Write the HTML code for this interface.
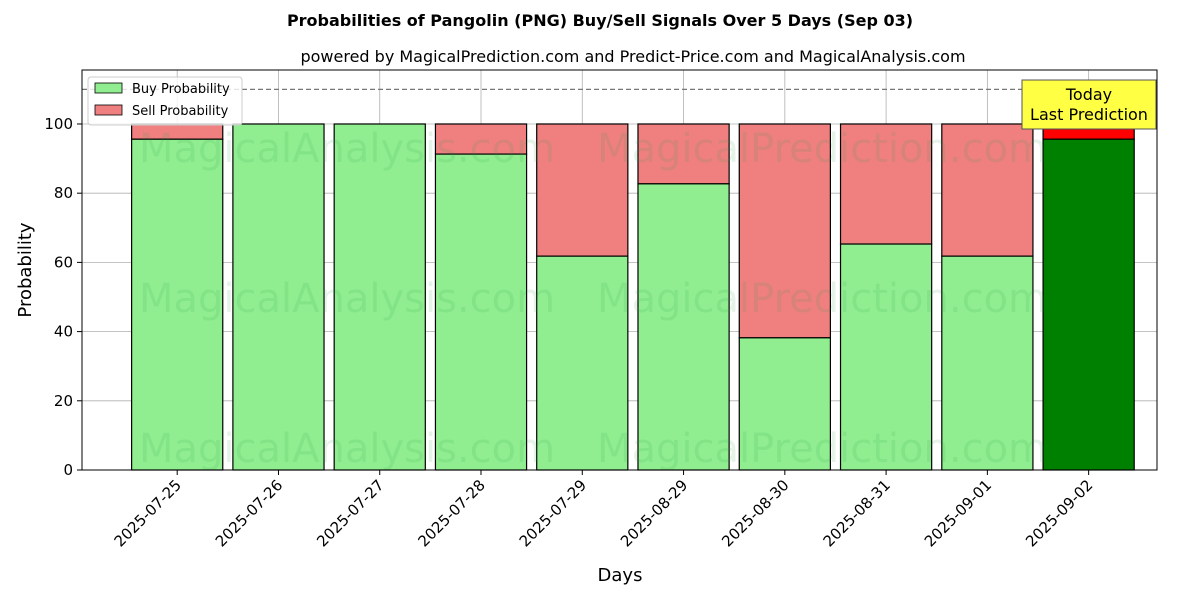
<!DOCTYPE html>
<html><head><meta charset="utf-8"><style>
body{margin:0;background:#fff;font-family:"Liberation Sans","DejaVu Sans",sans-serif;}
</style></head><body>
<svg id="chart" width="1200" height="600" xmlns="http://www.w3.org/2000/svg" font-family="DejaVu Sans, Liberation Sans, sans-serif">
<text x="600" y="26" text-anchor="middle" font-size="16" font-weight="bold">Probabilities of Pangolin (PNG) Buy/Sell Signals Over 5 Days (Sep 03)</text>
<text x="633" y="62" text-anchor="middle" font-size="16">powered by MagicalPrediction.com and Predict-Price.com and MagicalAnalysis.com</text>
<g id="grid"></g>
<g id="bars"></g>
<g id="wm" font-size="40" fill="#2a9d4a" fill-opacity="0.12">
<text x="347" y="162" text-anchor="middle">MagicalAnalysis.com</text>
<text x="822" y="162" text-anchor="middle">MagicalPrediction.com</text>
<text x="347" y="312" text-anchor="middle">MagicalAnalysis.com</text>
<text x="822" y="312" text-anchor="middle">MagicalPrediction.com</text>
<text x="347" y="462" text-anchor="middle">MagicalAnalysis.com</text>
<text x="822" y="462" text-anchor="middle">MagicalPrediction.com</text>
</g>
<line id="thr" x1="82" x2="1157" stroke="#777" stroke-dasharray="5,3" stroke-width="1.2"/>
<g id="axes"></g>
<rect x="82" y="70" width="1075" height="400" fill="none" stroke="#000" stroke-width="1"/>
<g>
<rect x="1022" y="80" width="134" height="49" fill="#ffff44" stroke="#555" stroke-width="1"/>
<text x="1089" y="100" text-anchor="middle" font-size="16">Today</text>
<text x="1089" y="120" text-anchor="middle" font-size="16">Last Prediction</text>
</g>
<g>
<rect x="88" y="77" width="154" height="48" fill="#fff" fill-opacity="0.8" stroke="#ccc" rx="3"/>
<rect x="95" y="83" width="27" height="10" fill="#90ee90" stroke="#000" stroke-width="0.8"/>
<text x="132" y="93" font-size="13">Buy Probability</text>
<rect x="95" y="105" width="27" height="10" fill="#f08080" stroke="#000" stroke-width="0.8"/>
<text x="132" y="115" font-size="13">Sell Probability</text>
</g>
<text x="620" y="581" text-anchor="middle" font-size="18">Days</text>
<text transform="translate(31,270) rotate(-90)" text-anchor="middle" font-size="18">Probability</text>
</svg>
<script>
const categories=["2025-07-25","2025-07-26","2025-07-27","2025-07-28","2025-07-29","2025-08-29","2025-08-30","2025-08-31","2025-09-01","2025-09-02"];
const buyValues=[95.6,100,100,91.3,61.8,82.7,38.2,65.3,61.8,95.6];
const yTicks=[0,20,40,60,80,100];
const threshold=110;
const NS="http://www.w3.org/2000/svg";
const x0=82,x1=1157,yB=470,yT=70,xmin=-0.94,xmax=9.675,ymax=115.6;
const sx=i=>x0+(i-xmin)/(xmax-xmin)*(x1-x0);
const sy=v=>yB-v/ymax*(yB-yT);
const bw=(sx(0.9)-sx(0));
function mk(t,a,p){const e=document.createElementNS(NS,t);for(const k in a)e.setAttribute(k,a[k]);p.appendChild(e);return e;}
const grid=document.getElementById('grid'),bars=document.getElementById('bars'),axes=document.getElementById('axes');
yTicks.forEach(v=>{
 const g=mk('line',{x1:x0,x2:x1,y1:sy(v),y2:sy(v),stroke:'#b0b0b0','stroke-width':0.8},grid);
 
 
 const t=mk('line',{x1:x0-5,x2:x0,y1:sy(v),y2:sy(v),stroke:'#000'},axes);
 
 
 const l=mk('text',{x:x0-9,y:sy(v)+5,'text-anchor':'end','font-size':15},axes);
 
 
 l.textContent=v;
});
categories.forEach((c,i)=>{
 const g=mk('line',{x1:sx(i),x2:sx(i),y1:yT,y2:yB,stroke:'#b0b0b0','stroke-width':0.8},grid);
 
 
 const last=i===categories.length-1;
 const b=buyValues[i];
 const sr=mk('rect',{x:sx(i)-bw/2,y:sy(100),width:bw,height:sy(b)-sy(100),fill:last?'#ff0000':'#f08080',stroke:'#000','stroke-width':1.2},bars);
 
 
 const br=mk('rect',{x:sx(i)-bw/2,y:sy(b),width:bw,height:sy(0)-sy(b),fill:last?'#008000':'#90ee90',stroke:'#000','stroke-width':1.2},bars);
 
 
 const t=mk('line',{x1:sx(i),x2:sx(i),y1:yB,y2:yB+5,stroke:'#000'},axes);
 
 
 const l=mk('text',{x:sx(i)+5,y:yB+16,'text-anchor':'end','font-size':15,transform:`rotate(-45 ${sx(i)+5} ${yB+16})`},axes);
 
 
 l.textContent=c;
});
const thr=document.getElementById('thr');thr.setAttribute('y1',sy(threshold));thr.setAttribute('y2',sy(threshold));
</script>
</body></html>
